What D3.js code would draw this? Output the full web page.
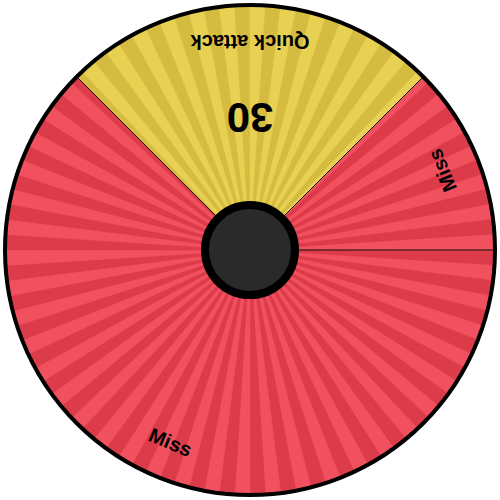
<!DOCTYPE html>
<html><head><meta charset="utf-8">
<script src="https://cdn.jsdelivr.net/npm/d3@7"></script>
<style>html,body{margin:0;padding:0;background:#fff}svg{display:block}</style>
</head><body>
<svg id="c" width="500" height="500"></svg>
<script>
const labels = ["Quick attack", "Miss", "Miss"];
const weights = [24, 12, 60];
const powers = ["30", "", ""];
const lightColors = ["#e8d152", "#f1505e", "#f1505e"];
const darkColors = ["#d5bb3f", "#dc3b49", "#dc3b49"];
const stripeCount = 100;

const svg = d3.select("#c");
const cx = 250, cy = 250, R = 245;
const g = svg.append("g").attr("transform", `translate(${cx},${cy})`);

const pie = d3.pie().sort(null).value(d => d)
  .startAngle(-Math.PI / 4).endAngle(2 * Math.PI - Math.PI / 4);
const arcs = pie(weights);
const arc = d3.arc().innerRadius(0).outerRadius(R);
const step = 2 * Math.PI / stripeCount;

arcs.forEach((a, i) => {
  g.append("path").attr("d", arc(a)).attr("fill", lightColors[i]);
  const kStart = Math.floor(a.startAngle / step);
  const kEnd = Math.ceil(a.endAngle / step);
  for (let k = kStart; k < kEnd; k++) {
    const s = Math.max(k * step, a.startAngle);
    const e = Math.min((k + 1) * step, a.endAngle);
    if (e <= s) continue;
    const idx = ((k % stripeCount) + stripeCount) % stripeCount;
    const col = idx % 2 === 0 ? lightColors[i] : darkColors[i];
    g.append("path")
      .attr("d", arc({startAngle: s, endAngle: e}))
      .attr("fill", col).attr("stroke", col).attr("stroke-width", 0.5);
  }
});

arcs.forEach(a => {
  const ang = a.startAngle;
  g.append("line")
    .attr("x1", 0).attr("y1", 0)
    .attr("x2", R * Math.sin(ang)).attr("y2", -R * Math.cos(ang))
    .attr("stroke", "#111").attr("stroke-width", 1);
});

g.append("circle").attr("r", R).attr("fill", "none")
  .attr("stroke", "#000").attr("stroke-width", 4);

arcs.forEach((a, i) => {
  const mid = (a.startAngle + a.endAngle) / 2;
  const deg = mid * 180 / Math.PI;
  const lr = 208;
  g.append("text")
    .attr("transform", `translate(${lr * Math.sin(mid)},${-lr * Math.cos(mid)}) rotate(${deg - 180})`)
    .attr("text-anchor", "middle").attr("dominant-baseline", "central")
    .attr("font-family", "Liberation Sans, Arial, sans-serif")
    .attr("font-weight", "bold")
    .attr("font-size", 20)
    .attr("fill", "#000")
    .text(labels[i]);
  if (powers[i]) {
    const pr = 133;
    g.append("text")
      .attr("transform", `translate(${pr * Math.sin(mid)},${-pr * Math.cos(mid)}) rotate(${deg - 180})`)
      .attr("text-anchor", "middle").attr("dominant-baseline", "central")
      .attr("font-family", "Liberation Sans, Arial, sans-serif")
      .attr("font-weight", "bold")
      .attr("font-size", 42)
      .attr("fill", "#000")
      .text(powers[i]);
  }
});

g.append("circle").attr("r", 45).attr("fill", "#2a2a2a")
  .attr("stroke", "#000").attr("stroke-width", 8);
</script>
</body></html>
